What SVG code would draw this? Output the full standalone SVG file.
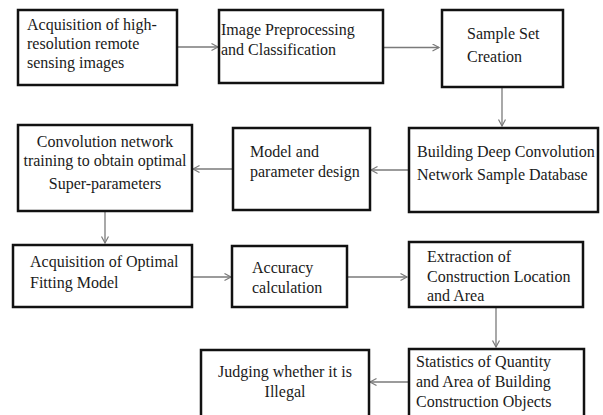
<svg xmlns="http://www.w3.org/2000/svg" width="603" height="415" viewBox="0 0 603 415">
<style>
.box{fill:#fff;stroke:#111;stroke-width:2.5}
.t{font-family:"Liberation Serif","Times New Roman",serif;font-size:16px;fill:#1a1a1a}
.c{text-anchor:middle}
.con{stroke:#7a7a7a;stroke-width:1.3;fill:none;marker-end:url(#arr)}
</style>
<defs>
<marker id="arr" markerUnits="userSpaceOnUse" markerWidth="10" markerHeight="10" refX="7" refY="4" orient="auto">
<path d="M0.5,0.5 L7,4 L0.5,7.5" fill="none" stroke="#7a7a7a" stroke-width="1.2"/>
</marker>
</defs>
<rect width="603" height="415" fill="#fff"/>
<g id="connectors">
<line class="con" x1="177" y1="47" x2="218" y2="47"/>
<line class="con" x1="383" y1="47.5" x2="439" y2="47.5"/>
<line class="con" x1="502" y1="87" x2="502" y2="126"/>
<line class="con" x1="409" y1="170" x2="371" y2="170"/>
<line class="con" x1="233" y1="169" x2="193" y2="169"/>
<line class="con" x1="105" y1="211" x2="105" y2="243"/>
<line class="con" x1="192" y1="277" x2="231" y2="277"/>
<line class="con" x1="347" y1="277" x2="407" y2="277"/>
<line class="con" x1="496" y1="307" x2="496" y2="347"/>
<line class="con" x1="409" y1="382" x2="370" y2="382"/>
</g>
<g id="n1"><rect class="box" x="18" y="10" width="159" height="75"/>
<text class="t" x="27" y="30">Acquisition of high-</text>
<text class="t" x="27" y="49">resolution remote</text>
<text class="t" x="27" y="68">sensing images</text></g>
<g id="n2"><rect class="box" x="219" y="10" width="164" height="73"/>
<text class="t" x="221" y="35">Image Preprocessing</text>
<text class="t" x="221" y="55">and Classification</text></g>
<g id="n3"><rect class="box" x="442" y="10" width="121" height="77"/>
<text class="t" x="467" y="39">Sample Set</text>
<text class="t" x="467" y="62">Creation</text></g>
<g id="n4"><rect class="box" x="409" y="128" width="189" height="84"/>
<text class="t" x="417" y="157">Building Deep Convolution</text>
<text class="t" x="417" y="180">Network Sample Database</text></g>
<g id="n5"><rect class="box" x="233" y="128" width="137" height="82"/>
<text class="t" x="250" y="157">Model and</text>
<text class="t" x="250" y="177">parameter design</text></g>
<g id="n6"><rect class="box" x="18" y="125" width="174" height="86"/>
<text class="t c" x="105" y="147">Convolution network</text>
<text class="t c" x="105" y="166">training to obtain optimal</text>
<text class="t c" x="105" y="189">Super-parameters</text></g>
<g id="n7"><rect class="box" x="13" y="245" width="179" height="62"/>
<text class="t" x="30" y="267">Acquisition of Optimal</text>
<text class="t" x="30" y="288">Fitting Model</text></g>
<g id="n8"><rect class="box" x="232" y="246" width="115" height="61"/>
<text class="t" x="252" y="273">Accuracy</text>
<text class="t" x="252" y="293">calculation</text></g>
<g id="n9"><rect class="box" x="409" y="242" width="174" height="65"/>
<text class="t" x="427" y="262">Extraction of</text>
<text class="t" x="427" y="282">Construction Location</text>
<text class="t" x="427" y="301">and Area</text></g>
<g id="n10"><rect class="box" x="409" y="349" width="175" height="80"/>
<text class="t" x="416" y="367">Statistics of Quantity</text>
<text class="t" x="416" y="387">and Area of Building</text>
<text class="t" x="416" y="407">Construction Objects</text></g>
<g id="n11"><rect class="box" x="201" y="350" width="168" height="80"/>
<text class="t c" x="285" y="377">Judging whether it is</text>
<text class="t c" x="285" y="397">Illegal</text></g>
</svg>
